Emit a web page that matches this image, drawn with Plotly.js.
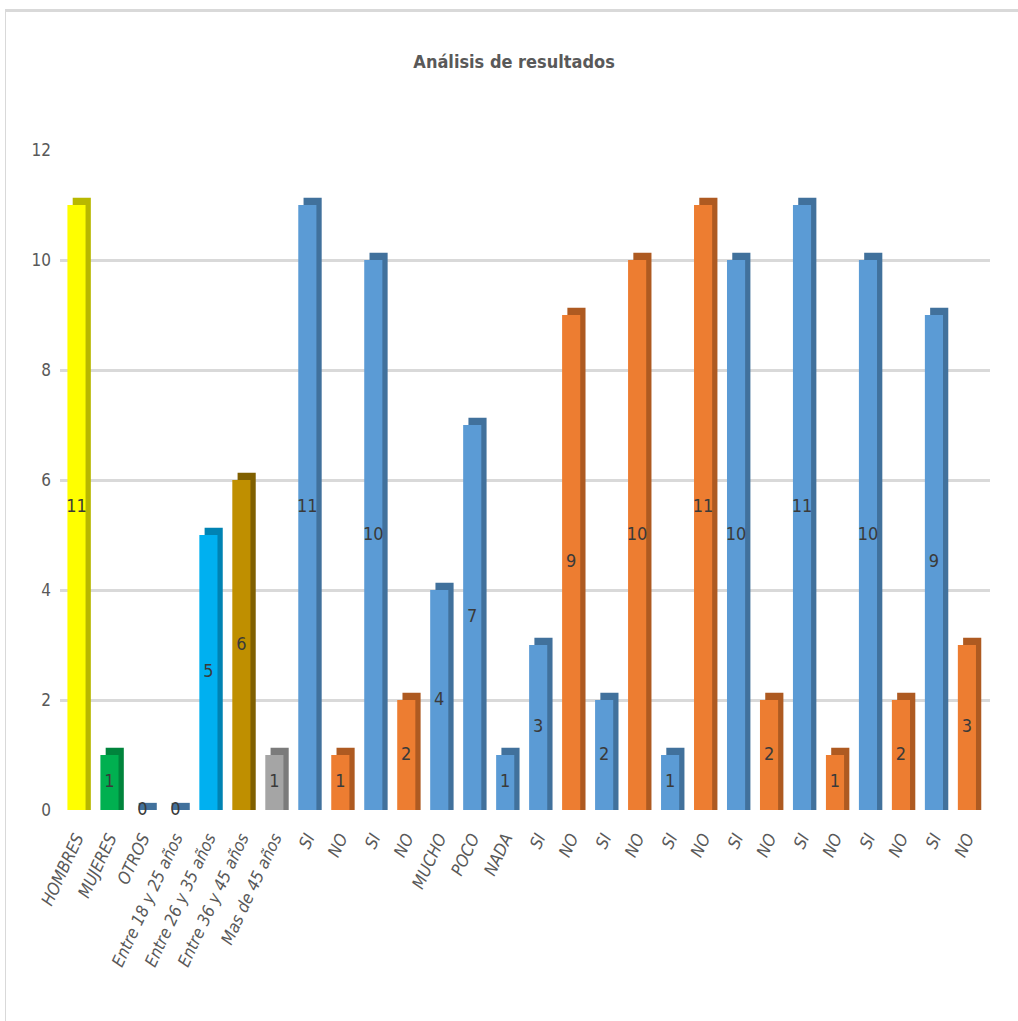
<!DOCTYPE html>
<html>
<head>
<meta charset="utf-8">
<script src="https://cdn.plot.ly/plotly-3.0.1.min.js"></script>
<style>
  html, body { margin: 0; padding: 0; background: #ffffff; }
  #frame { position: absolute; left: 5px; top: 9px; width: 1030px; height: 1030px;
           border-top: 3px solid #d9d9d9; border-left: 1px solid #d9d9d9; pointer-events: none; }
  #chart { width: 1018px; height: 1021px; }
</style>
</head>
<body>
<div id="chart"></div>
<div id="frame"></div>
<script>
// Survey answers, one column per category
const categories = [
  "HOMBRES", "MUJERES", "OTROS",
  "Entre 18 y 25 años", "Entre 26 y 35 años", "Entre 36 y 45 años", "Mas de 45 años",
  "SI", "NO", "SI", "NO",
  "MUCHO", "POCO", "NADA",
  "SI", "NO", "SI", "NO", "SI", "NO", "SI", "NO", "SI", "NO", "SI", "NO", "SI", "NO"
];
const counts = [
  11, 1, 0,
  0, 5, 6, 1,
  11, 1, 10, 2,
  4, 7, 1,
  3, 9, 2, 10, 1, 11, 10, 2, 11, 1, 10, 2, 9, 3
];
// colour group of each column
const groups = [
  "yellow", "green", "blue",
  "blue", "sky", "gold", "gray",
  "blue", "orange", "blue", "orange",
  "blue", "blue", "blue",
  "blue", "orange", "blue", "orange", "blue", "orange", "blue", "orange",
  "blue", "orange", "blue", "orange", "blue", "orange"
];

const faceColor = { yellow: "#FFFF00", green: "#00B050", blue: "#5B9BD5", sky: "#00B0F0",
                    gold: "#BF8F00", gray: "#A5A5A5", orange: "#ED7D31" };
const sideColor = { yellow: "#B8B800", green: "#00843C", blue: "#41719C", sky: "#0083B3",
                    gold: "#806000", gray: "#7B7B7B", orange: "#AE5A21" };

const idx = categories.map((_, i) => i);
const FONT = "'Liberation Sans Narrow', 'DejaVu Sans Condensed', 'Roboto Condensed', Arial Narrow, sans-serif";
const depth = 0.13;

// shaded back/side of each column, giving the 3-D look
const sideTrace = {
  type: "bar", x: idx, y: counts.map(v => v + depth), base: 0,
  width: 0.55, offset: -0.275 + 0.16,
  marker: { color: groups.map(g => sideColor[g]), line: { width: 0 } },
  hoverinfo: "skip", showlegend: false
};
// front face of each column
const faceTrace = {
  type: "bar", x: idx, y: counts, width: 0.55, offset: -0.275,
  marker: { color: groups.map(g => faceColor[g]), line: { width: 0 } },
  showlegend: false
};
// value labels in the middle of each column
const labelTrace = {
  type: "scatter", mode: "text", x: idx, y: counts.map(v => v / 2),
  text: counts.map(String), textposition: "middle center",
  textfont: { family: FONT, size: 18, color: "#3a3a3a" },
  hoverinfo: "skip", showlegend: false, cliponaxis: false
};

const layout = {
  width: 1018, height: 1021,
  paper_bgcolor: "#ffffff", plot_bgcolor: "#ffffff",
  margin: { l: 60, r: 28, t: 150, b: 211 },
  barmode: "overlay",
  title: { text: "<b>Análisis de resultados</b>", x: 0.505, xanchor: "center", y: 0.94, yanchor: "middle",
           font: { family: FONT, size: 18, color: "#595959" } },
  xaxis: {
    range: [-0.5, 27.7], tickmode: "array", tickvals: idx,
    ticktext: categories,
    tickangle: -65, tickfont: { family: FONT, size: 17, color: "#595959", style: "italic" },
    showgrid: false, zeroline: false, showline: false, ticks: "", ticklabelstandoff: 14, fixedrange: true
  },
  yaxis: {
    range: [0, 12], tickvals: [0, 2, 4, 6, 8, 10, 12],
    tickfont: { family: FONT, size: 17, color: "#595959" },
    showgrid: true, gridcolor: "#d9d9d9", gridwidth: 3,
    zeroline: false, showline: false, ticks: "", ticklabelstandoff: 8, fixedrange: true
  }
};

Plotly.newPlot("chart", [sideTrace, faceTrace, labelTrace], layout, { displayModeBar: false, staticPlot: true });
</script>
</body>
</html>
